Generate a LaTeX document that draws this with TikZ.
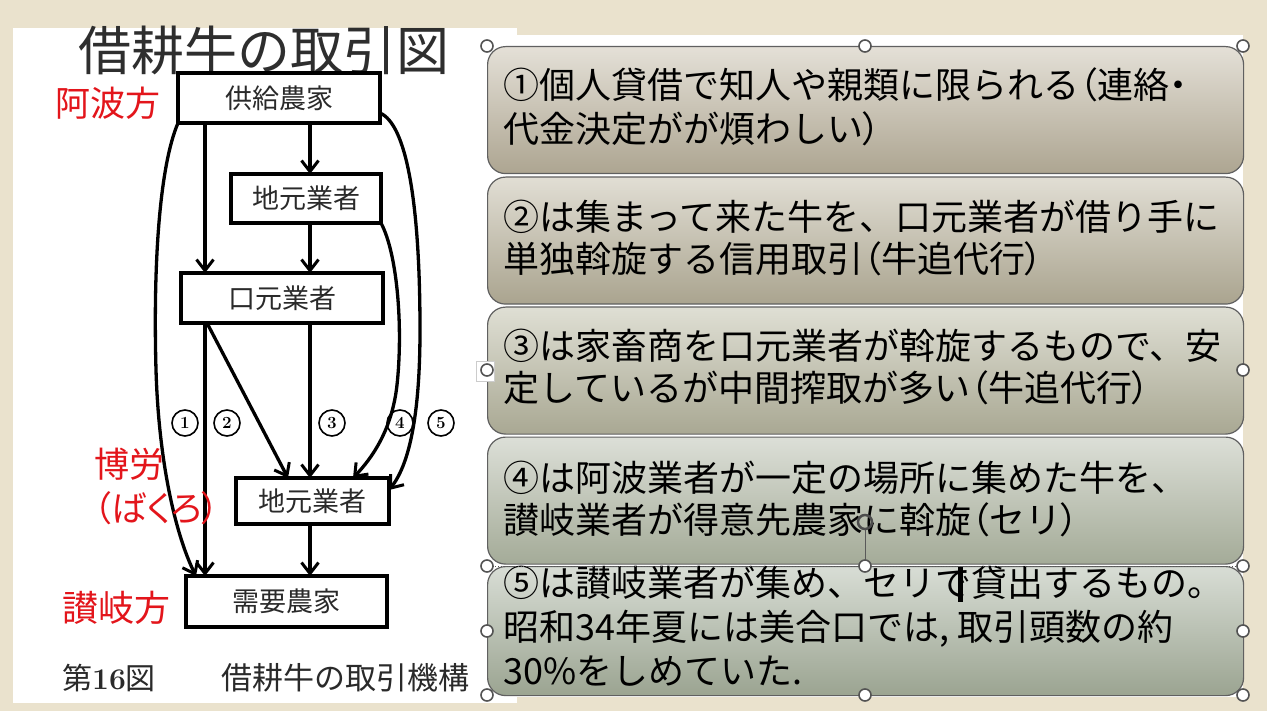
\documentclass[tikz,border=0pt]{standalone}
\usepackage{fontspec}
\usetikzlibrary{arrows.meta}
\newfontfamily\jp{Noto Sans CJK JP}
\newfontfamily\jpp[RawFeature=+palt]{Noto Sans CJK JP}
\newcommand{\kL}{{\jpp （}}
\newcommand{\kR}{{\jpp ）}}
\newcommand{\kD}{{\jpp ・}}
\definecolor{bg}{HTML}{EAE2CD}
\definecolor{redlbl}{HTML}{E3151B}
\definecolor{titlec}{HTML}{2E2E2E}
\definecolor{scan}{HTML}{2A2A2A}
\definecolor{aT}{HTML}{E4E0D7}\definecolor{aM}{HTML}{D6D0C3}\definecolor{aB}{HTML}{ADA591}
\definecolor{bT}{HTML}{E1DED4}\definecolor{bM}{HTML}{D3CFC1}\definecolor{bB}{HTML}{AAA48F}
\definecolor{cT}{HTML}{DFDFD4}\definecolor{cM}{HTML}{D1D0C2}\definecolor{cB}{HTML}{A9A893}
\definecolor{dT}{HTML}{DCDFD7}\definecolor{dM}{HTML}{CED2C7}\definecolor{dB}{HTML}{A4AB98}
\definecolor{eT}{HTML}{D8DDD5}\definecolor{eM}{HTML}{CACFC5}\definecolor{eB}{HTML}{9BA491}
\begin{document}
\begin{tikzpicture}[x=1pt,y=-1pt,
  rbox/.style={draw=gray!75!black, line width=1.2pt, rounded corners=18pt,
    minimum width=756pt, minimum height=127pt, anchor=north west, inner sep=0pt},
  txt/.style={anchor=base west, inner sep=0pt, text=black, font=\jp\fontsize{36}{44}\selectfont},
  sbox/.style={draw=black, line width=4.4pt, outer sep=0pt, inner sep=0pt,
    text=scan, font=\jp\fontsize{27}{27}\selectfont},
  flow/.style={draw=black, line width=3.3pt, -{Straight Barb[length=11pt,width=17pt,line width=3pt]}},
  cnum/.style={circle, draw=black, line width=1.6pt, minimum size=26pt, inner sep=0pt,
    font=\fontsize{17}{17}\selectfont\bfseries},
  redl/.style={anchor=base west, inner sep=0pt, text=redlbl, font=\jpp\fontsize{35}{35}\selectfont},
  handle/.style={circle, draw=gray!65!black, fill=white, line width=1.6pt, minimum size=12pt, inner sep=0pt}]
\useasboundingbox (0,0) rectangle (1267,711);
\fill[bg] (0,0) rectangle (1267,711);
\fill[white] (13,28) rectangle (517,703);
\fill[white] (487,35) rectangle (1243,697);

% ---------- left: scanned figure ----------
\node[anchor=base, inner sep=0pt, text=titlec, font=\jp\fontsize{53}{53}\selectfont] (title) at (264,71) {借耕牛の取引図};

\node[sbox, minimum width=202pt, minimum height=50pt] (A) at (279,98) {供給農家};
\node[sbox, minimum width=150pt, minimum height=49pt] (B) at (306,198.5) {地元業者};
\node[sbox, minimum width=202pt, minimum height=50pt] (C) at (282,298) {口元業者};
\node[sbox, minimum width=153pt, minimum height=46pt] (D) at (312.5,501) {地元業者};
\node[sbox, minimum width=201pt, minimum height=51pt] (E) at (286.5,601.5) {需要農家};

\coordinate (x205) at (205,0);
\coordinate (x310) at (310,0);
\coordinate (x196) at (196,0);
\coordinate (x288) at (288,0);
\coordinate (x353) at (353,0);

\draw[flow] (A.south -| x310) -- (B.north -| x310);
\draw[flow] (A.south -| x205) -- (C.north -| x205);
\draw[flow] (B.south -| x310) -- (C.north -| x310);
% (1)
\draw[flow] (A.south west) .. controls (160,165) and (153,260) .. (156,370)
   .. controls (159,470) and (178,540) .. (E.north -| x196);
% (2)
\draw[flow] (C.south -| x205) -- (E.north -| x205);
% (3)
\draw[flow] ([xshift=2pt]C.south -| x205) -- (D.north -| x288);
\draw[flow] (C.south -| x310) -- (D.north -| x310);
% (4)
\draw[flow] (B.south east) .. controls (398,255) and (403,330) .. (397,385)
   .. controls (392,430) and (372,458) .. (D.north -| x353);
% (5)
\draw[flow] ([yshift=-15pt]A.east) .. controls (406,124) and (420,200) .. (420,330)
   .. controls (420,420) and (408,466) .. ([yshift=11pt]D.east);
\draw[flow] (D.south -| x310) -- (E.north -| x310);

\node[cnum] (n1) at (185,423) {1};
\node[cnum] (n2) at (227,423) {2};
\node[cnum] (n3) at (332,423) {3};
\node[cnum] (n4) at (400,423) {4};
\node[cnum] (n5) at (441,423) {5};

\node[redl] (awa) at (55,117) {阿波方};
\node[redl] (bak1) at (94,477) {博労};
\node[redl] (bak2) at (94,521) {（ばくろ）};
\node[redl, font=\jpp\fontsize{36}{36}\selectfont] (sanuki) at (62,621) {讃岐方};

\node[anchor=base west, inner sep=0pt, text=scan, font=\jp\fontsize{30}{30}\selectfont] (cap1) at (62,689)
  {第{\normalfont\bfseries 16}図};
\node[anchor=base west, inner sep=0pt, text=scan, font=\jp\fontsize{31}{31}\selectfont] (cap2) at (221,689)
  {借耕牛の取引機構};

% ---------- right: text boxes ----------
\node[rbox, top color=aT, middle color=aM, bottom color=aB] (r1) at (487,46) {};
\node[rbox, top color=bT, middle color=bM, bottom color=bB] (r2) at (487,176.5) {};
\node[rbox, top color=cT, middle color=cM, bottom color=cB] (r3) at (487,306.5) {};
\node[rbox, top color=dT, middle color=dM, bottom color=dB] (r4) at (487,436.5) {};
\node[rbox, top color=eT, middle color=eM, bottom color=eB, minimum height=129pt] (r5) at (487,566) {};

\node[txt] (t1a) at (503,99) {①個人貸借で知人や親類に限られる\kL 連絡\kD};
\node[txt] (t1b) at (503,143) {代金決定がが煩わしい\kR};
\node[txt] (t2a) at (503,231) {②は集まって来た牛を、口元業者が借り手に};
\node[txt] (t2b) at (503,273) {単独斡旋する信用取引\kL 牛追代行\kR};
\node[txt] (t3a) at (503,360) {③は家畜商を口元業者が斡旋するもので、安};
\node[txt] (t3b) at (503,401) {定しているが中間搾取が多い\kL 牛追代行\kR};
\node[txt] (t4a) at (503,491) {④は阿波業者が一定の場所に集めた牛を、};
\node[txt] (t4b) at (503,533) {讃岐業者が得意先農家に斡旋\kL セリ\kR};
\node[txt] (t5a) at (503,596) {⑤は讃岐業者が集め、セリで貸出するもの。};
\node[txt] (t5b) at (503,640) {昭和34年夏には美合口では, 取引頭数の約};
\node[txt] (t5c) at (503,684) {30\%をしめていた.};

% ---------- selection marks ----------
\draw[gray!70!black, line width=0.8pt, dotted] (487,566) -- (1243,566);
\draw[gray!70!black, line width=1pt] (865,530) -- (865,566);
\draw[gray!60!black, line width=2.5pt] (865,522) circle[radius=7];
\fill[black] (958,567) rectangle (963,602);
\node[draw=gray!40, fill=white, minimum width=18pt, minimum height=20pt, inner sep=0pt,
  text=gray, font=\fontsize{12}{12}\selectfont] (tab) at (485,371) {<};
\foreach \p [count=\i] in {(487,46),(865,46),(1243,46),(487,370),(1243,370),(487,695),(865,695),(1243,695),
  (487,566),(865,566),(1243,566),(487,631),(1243,631)}
  \node[handle] (h\i) at \p {};
\end{tikzpicture}
\end{document}
